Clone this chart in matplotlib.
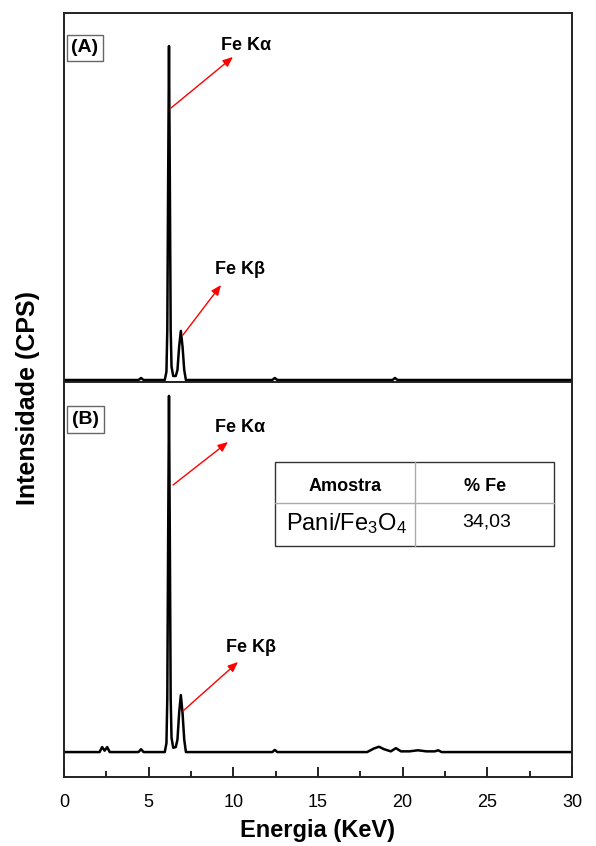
import matplotlib
matplotlib.use("Agg")
import matplotlib.pyplot as plt
from matplotlib.patches import Rectangle
from matplotlib.lines import Line2D
from matplotlib.ticker import MultipleLocator

plt.rcParams['font.family'] = ['Liberation Sans', 'DejaVu Sans']
plt.rcParams['mathtext.fontset'] = 'custom'
plt.rcParams['mathtext.rm'] = 'Liberation Sans'
plt.rcParams['mathtext.it'] = 'Liberation Sans'

# espectro (A) - energia (keV) e intensidade (unidades arbitrarias)
a_kev = [0, 4.4, 4.55, 4.7, 5.95, 6.05, 6.1, 6.15, 6.2, 6.25, 6.3, 6.35, 6.45,
         6.6, 6.7, 6.8, 6.9, 7.0, 7.1, 7.2, 12.3, 12.45, 12.6, 19.4, 19.55, 19.7, 30]
a_cps = [0, 0, 6, 0, 0, 25, 150, 600, 1000, 600, 150, 40, 12,
         12, 30, 100, 147, 100, 30, 0, 0, 6, 0, 0, 6, 0, 0]

# espectro (B)
b_kev = [0, 2.1, 2.25, 2.4, 2.55, 2.7, 4.4, 4.55, 4.7, 5.95, 6.05, 6.1, 6.15,
         6.2, 6.25, 6.3, 6.35, 6.45, 6.6, 6.7, 6.8, 6.9, 7.0, 7.1, 7.2, 12.3,
         12.45, 12.6, 17.9, 18.3, 18.6, 18.9, 19.3, 19.6, 19.9, 20.4, 20.9,
         21.4, 21.9, 22.1, 22.3, 30]
b_cps = [0, 0, 14, 4, 14, 0, 0, 8, 0, 0, 25, 150, 600,
         1000, 600, 150, 40, 12, 14, 35, 110, 160, 110, 35, 0, 0,
         6, 0, 0, 10, 15, 8, 2, 11, 2, 2, 5,
         2, 2, 5, 0, 0]

x_ticks = [0, 5, 10, 15, 20, 25, 30]
tabela_cab = ['Amostra', '% Fe']
tabela_lin = ['Pani/Fe$_3$O$_4$', '34,03']

W, H = 596, 846
fig = plt.figure(figsize=(W / 100, H / 100), dpi=100)


def px(x, y):
    # pixel da imagem -> fracao da figura
    return (x / W, 1 - y / H)


L, R = 64, 572
ax1 = fig.add_axes([L / W, 1 - 382 / H, (R - L) / W, (382 - 13) / H])
ax2 = fig.add_axes([L / W, 1 - 777 / H, (R - L) / W, (777 - 382) / H])

ax1.plot(a_kev, a_cps, color='black', lw=1.8, solid_joinstyle='round')
ax2.plot(b_kev, b_cps, color='black', lw=1.8, solid_joinstyle='round')

ax1.set_xlim(0, 30)
ax1.set_ylim(-6, 1099)
ax2.set_xlim(0, 30)
ax2.set_ylim(-70, 1039)

for ax in (ax1, ax2):
    for s in ax.spines.values():
        s.set_linewidth(1.4)
        s.set_color('#222222')
    ax.set_yticks([])

ax1.set_xticks([])
ax2.set_xticks(x_ticks)
ax2.xaxis.set_minor_locator(MultipleLocator(2.5))
ax2.tick_params(axis='x', which='major', direction='in', length=7, width=1.2,
                labelsize=13, pad=12)
ax2.tick_params(axis='x', which='minor', direction='in', length=4.5, width=1.2)

fig.text(*px(28, 398), 'Intensidade (CPS)', rotation=90, ha='center',
         va='center', fontsize=18, fontweight='bold')
fig.text(*px(318, 830), 'Energia (KeV)', ha='center', va='center',
         fontsize=17, fontweight='bold')

box = dict(boxstyle='square,pad=0.25', fc='white', ec='#666666', lw=1)
fig.text(*px(85, 48), '(A)', ha='center', va='center', fontsize=14,
         fontweight='bold', bbox=box)
fig.text(*px(85.5, 419.5), '(B)', ha='center', va='center', fontsize=14,
         fontweight='bold', bbox=box)

# setas e rotulos
setas = [
    ('Fe K\u03b1', (246, 46), (171, 108), (233, 57)),
    ('Fe K\u03b2', (240, 270), (183, 335), (221, 285)),
    ('Fe K\u03b1', (240, 427), (173, 485), (228, 442)),
    ('Fe K\u03b2', (251, 647), (183, 711), (238, 662)),
]
for txt, tpos, p0, p1 in setas:
    fig.text(*px(*tpos), txt, ha='center', va='center', fontsize=13,
             fontweight='bold')
    ax2.annotate('', xy=px(*p1), xycoords='figure fraction',
                 xytext=px(*p0), textcoords='figure fraction',
                 arrowprops=dict(arrowstyle='-|>,head_length=0.6,head_width=0.25',
                                 color='red', lw=1, shrinkA=0, shrinkB=0),
                 annotation_clip=False)

# tabela
x0, x1, xm = 275, 554, 415
y0, y1, ym = 462, 546, 503
fig.patches.append(Rectangle(px(x0, y1), (x1 - x0) / W, (y1 - y0) / H,
                             transform=fig.transFigure, fill=False,
                             ec='#333333', lw=1))
fig.lines.append(Line2D([x0 / W, x1 / W], [1 - ym / H] * 2,
                        transform=fig.transFigure, color='#aaaaaa', lw=1))
fig.lines.append(Line2D([xm / W] * 2, [1 - y0 / H, 1 - y1 / H],
                        transform=fig.transFigure, color='#aaaaaa', lw=1))
fig.text(*px(345, 486), tabela_cab[0], ha='center', va='center',
         fontsize=13, fontweight='bold')
fig.text(*px(485, 486), tabela_cab[1], ha='center', va='center',
         fontsize=13, fontweight='bold')
fig.text(*px(346, 524), tabela_lin[0], ha='center', va='center', fontsize=17)
fig.text(*px(487, 522), tabela_lin[1], ha='center', va='center', fontsize=14)

fig.savefig('out.png', dpi=100)
